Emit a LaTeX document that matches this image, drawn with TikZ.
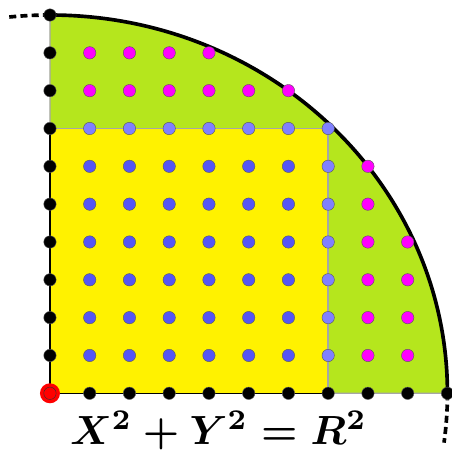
\documentclass[tikz,border=0pt]{standalone}
\usepackage{amsmath}
\usepackage{amssymb}
\usepackage{tikz}
\usepackage{xcolor}

\definecolor{sectorgreen}{RGB}{181,230,29}
\definecolor{squareyellow}{RGB}{255,242,0}
\definecolor{innerblue}{RGB}{85,85,245}
\definecolor{edgeblue}{RGB}{128,128,255}
\definecolor{outermagenta}{RGB}{255,0,255}
\tikzset{
  dot/.style={circle,inner sep=0pt,minimum size=0.31cm,draw=black!65,line width=0.3pt},
  rim/.style={line width=2.6pt}
}

\begin{document}
\begin{tikzpicture}[x=0.994cm,y=0.946cm]
  \useasboundingbox (-1.257,-1.605) rectangle (10.108,10.397);
  \filldraw[fill=sectorgreen,draw=gray!70,line width=1pt] (0,0) -- (10,0) arc[start angle=0,end angle=90,radius=10] -- cycle;
  \filldraw[fill=squareyellow,draw=gray!70,line width=1pt] (0,0) rectangle (7,7);
  \draw[line width=1pt] (0,7) -- (0,0) -- (7,0);
  \draw[rim] (10,0) arc[start angle=0,end angle=90,radius=10];
  \draw[rim,dash pattern=on 5pt off 3pt] (10,0) arc[start angle=0,end angle=-7.5,radius=10];
  \draw[rim,dash pattern=on 5pt off 3pt] (0,10) arc[start angle=90,end angle=96,radius=10];
  \foreach \k in {1,...,10} {
    \node[dot,fill=black] (ax\k) at (\k,0) {};
    \node[dot,fill=black] (ay\k) at (0,\k) {};
  }
  \node[circle,inner sep=0pt,minimum size=0.5cm,fill=red] (origin) at (0,0) {};
  \node[dot,fill=red,draw=black!80] (origindot) at (0,0) {};
  \foreach \i in {1,...,6} {
    \foreach \j in {1,...,6} {
      \node[dot,fill=innerblue] (in\i\j) at (\i,\j) {};
    }
  }
  \foreach \k in {1,...,7} {
    \node[dot,fill=edgeblue] (ex\k) at (7,\k) {};
  }
  \foreach \k in {1,...,6} {
    \node[dot,fill=edgeblue] (ey\k) at (\k,7) {};
  }
  \foreach \a/\b in {8/6,9/4} {
    \foreach \k in {1,...,\b} {
      \node[dot,fill=outermagenta] (mx\a\k) at (\k,\a) {};
      \node[dot,fill=outermagenta] (my\a\k) at (\a,\k) {};
    }
  }
  \node[anchor=base,inner sep=0pt,scale=2.9,font=\boldmath] (circleeq) at (4.24,-1.36) {$X^2+Y^2=R^2$};
\end{tikzpicture}
\end{document}
